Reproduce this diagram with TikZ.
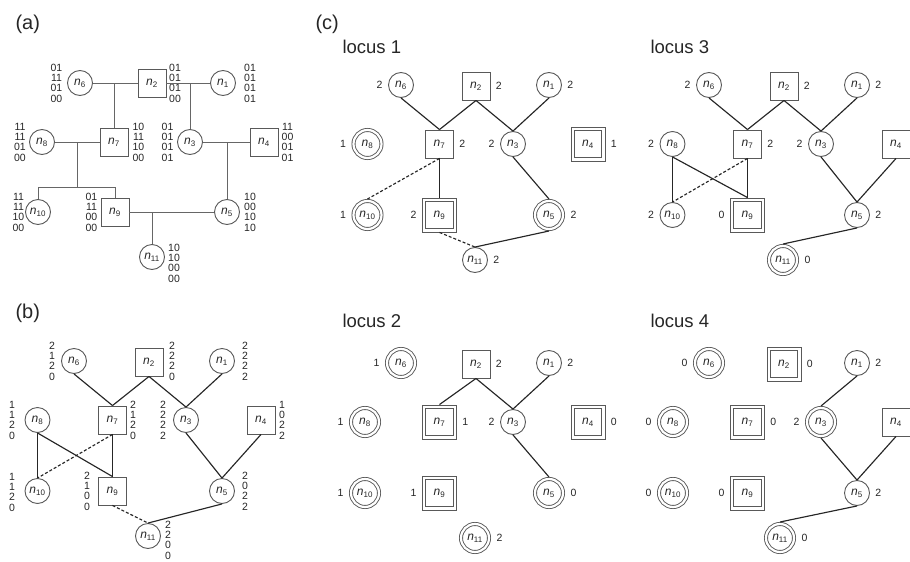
\documentclass[tikz,border=0pt]{standalone}
\usepackage{fontspec}
\setmainfont{Liberation Sans}

\newcommand{\nd}[1]{\textit{n}\textsubscript{#1}}
\newcommand{\panelfont}{\fontsize{20}{24}\selectfont}
\newcommand{\locusfont}{\fontsize{18.5}{22}\selectfont}

\begin{document}
\begin{tikzpicture}[x=1pt,y=-1pt,label distance=2pt,
    every node/.style={text=black!85},
    every label/.style={font=\fontsize{10.5}{12}\selectfont},
    ind/.style={circle,draw=black!65,line width=0.9pt,minimum size=25pt,inner sep=0pt,
                font=\fontsize{12}{12}\selectfont},
    dind/.style={ind,minimum size=28pt,double=white,double distance=2.2pt,outer sep=2pt},
    sq/.style={ind,rectangle,minimum size=28pt},
    dsq/.style={sq,minimum size=34pt,
        path picture={\draw[black!65,line width=0.9pt]
            ([shift={(3.4pt,-3.4pt)}]path picture bounding box.north west) rectangle
            ([shift={(-3.4pt,3.4pt)}]path picture bounding box.south east);}},
    gt/.style={align=center,inner sep=0pt,font=\fontsize{10.5}{10.3}\selectfont},
    tie/.style={draw=black!60,line width=0.9pt},
    link/.style={draw=black!85,line width=1.15pt},
    every edge/.style={draw,dash pattern=on 3pt off 2pt},
    fam/.style={dash pattern=}]
    \useasboundingbox (0,0) rectangle (910,562);

    % (a) pedigree with genotypes
    \node[font=\panelfont,anchor=base west] (pa) at (12,29) {(a)};
    \node[ind] (a6)  at (80,83)   {\nd{6}};
    \node[sq]  (a2)  at (152,83)  {\nd{2}};
    \node[ind] (a1)  at (223,83)  {\nd{1}};
    \node[ind] (a8)  at (42,142)  {\nd{8}};
    \node[sq]  (a7)  at (114,142) {\nd{7}};
    \node[ind] (a3)  at (190,142) {\nd{3}};
    \node[sq]  (a4)  at (264,142) {\nd{4}};
    \node[ind] (a10) at (38,212)  {\nd{10}};
    \node[sq]  (a9)  at (115,212) {\nd{9}};
    \node[ind] (a5)  at (227,212) {\nd{5}};
    \node[ind] (a11) at (152,257) {\nd{11}};

    \node[gt] (g6)  at (56.5,83)  {01\\11\\01\\00};
    \node[gt] (g2)  at (175,83)   {01\\01\\01\\00};
    \node[gt] (g1)  at (250,83)   {01\\01\\01\\01};
    \node[gt] (g8)  at (20,142)   {11\\11\\01\\00};
    \node[gt] (g7)  at (138.5,142){10\\11\\10\\00};
    \node[gt] (g3)  at (167.5,142){01\\01\\01\\01};
    \node[gt] (g4)  at (287.5,142){11\\00\\01\\01};
    \node[gt] (g10) at (18.5,212) {11\\11\\10\\00};
    \node[gt] (g9)  at (91.5,212) {01\\11\\00\\00};
    \node[gt] (g5)  at (250,212)  {10\\00\\10\\10};
    \node[gt] (g11) at (174,263)  {10\\10\\00\\00};

    \coordinate (s87) at (77,187);
    \draw[tie] (a6) -- (a2) (a2) -- (a1) (a8) -- (a7) (a3) -- (a4) (a9) -- (a5);
    \draw[tie] (a7) |- (a6);
    \draw[tie] (a3) |- (a2);
    \draw[tie] (s87) -- (s87 |- a8);
    \draw[tie] (a10) |- (s87);
    \draw[tie] (a9) |- (s87);
    \draw[tie] (a5) |- (a4);
    \draw[tie] (a11) |- (a5);

    % (b) numbers of alleles per locus
    \node[font=\panelfont,anchor=base west] (pb) at (12,318) {(b)};
    \node[ind] (b6)  at (74,361)    {\nd{6}};
    \node[sq]  (b2)  at (149,362)   {\nd{2}};
    \node[ind] (b1)  at (222,361)   {\nd{1}};
    \node[ind] (b8)  at (37.5,420)  {\nd{8}};
    \node[sq]  (b7)  at (112.5,420) {\nd{7}};
    \node[ind] (b3)  at (186,420)   {\nd{3}};
    \node[sq]  (b4)  at (261,420)   {\nd{4}};
    \node[ind] (b10) at (37.5,491)  {\nd{10}};
    \node[sq]  (b9)  at (112.5,491) {\nd{9}};
    \node[ind] (b5)  at (222,491)   {\nd{5}};
    \node[ind] (b11) at (148,536)   {\nd{11}};

    \node[gt] (c6)  at (52,361)  {2\\1\\2\\0};
    \node[gt] (c2)  at (172,361) {2\\2\\2\\0};
    \node[gt] (c1)  at (245,361) {2\\2\\2\\2};
    \node[gt] (c8)  at (12,420)  {1\\1\\2\\0};
    \node[gt] (c7)  at (133,420) {2\\1\\2\\0};
    \node[gt] (c3)  at (163,420) {2\\2\\2\\2};
    \node[gt] (c4)  at (282,420) {1\\0\\2\\2};
    \node[gt] (c10) at (12,492)  {1\\1\\2\\0};
    \node[gt] (c9)  at (87,491)  {2\\1\\0\\0};
    \node[gt] (c5)  at (245,491) {2\\0\\2\\2};
    \node[gt] (c11) at (168,540) {2\\2\\0\\0};

    \path[link] (b6.south) edge[fam] (b7.north)
                (b2.south) edge[fam] (b7.north)
                (b2.south) edge[fam] (b3.north)
                (b1.south) edge[fam] (b3.north)
                (b3.south) edge[fam] (b5.north)
                (b4.south) edge[fam] (b5.north)
                (b8.south) edge[fam] (b10.north)
                (b8.south) edge[fam] (b9.north)
                (b7.south) edge[fam] (b9.north)
                (b7.south) edge      (b10.north)
                (b5.south) edge[fam] (b11.north)
                (b9.south) edge      (b11.north);

    % (c) one graph per locus
    \node[font=\panelfont,anchor=base west] (pc) at (312,29) {(c)};

    \begin{scope}[shift={(327,-276)}]
    \node[font=\locusfont,anchor=base west] (t1) at (12,329) {locus 1};
    \node[ind,label=left:2]  (l1n6)  at (74,361)    {\nd{6}};
    \node[sq,label=right:2]  (l1n2)  at (149,362)   {\nd{2}};
    \node[ind,label=right:2] (l1n1)  at (222,361)   {\nd{1}};
    \node[dind,label=left:1] (l1n8)  at (40.5,420)  {\nd{8}};
    \node[sq,label=right:2]  (l1n7)  at (112.5,420) {\nd{7}};
    \node[ind,label=left:2]  (l1n3)  at (186,420)   {\nd{3}};
    \node[dsq,label=right:1] (l1n4)  at (261,420)   {\nd{4}};
    \node[dind,label=left:1] (l1n10) at (40.5,491)  {\nd{10}};
    \node[dsq,label=left:2]  (l1n9)  at (112.5,491) {\nd{9}};
    \node[dind,label=right:2](l1n5)  at (222,491)   {\nd{5}};
    \node[ind,label=right:2] (l1n11) at (148,536)   {\nd{11}};
    \path[link] (l1n6.south) edge[fam] (l1n7.north)
                (l1n2.south) edge[fam] (l1n7.north)
                (l1n2.south) edge[fam] (l1n3.north)
                (l1n1.south) edge[fam] (l1n3.north)
                (l1n3.south) edge[fam] (l1n5.north)
                (l1n7.south) edge[fam] (l1n9.north)
                (l1n7.south) edge      (l1n10.north)
                (l1n5.south) edge[fam] (l1n11.north)
                (l1n9.south) edge      (l1n11.north);
    \end{scope}

    \begin{scope}[shift={(327,2)}]
    \node[font=\locusfont,anchor=base west] (t2) at (12,325) {locus 2};
    \node[dind,label=left:1] (l2n6)  at (74,361)    {\nd{6}};
    \node[sq,label=right:2]  (l2n2)  at (149,362)   {\nd{2}};
    \node[ind,label=right:2] (l2n1)  at (222,361)   {\nd{1}};
    \node[dind,label=left:1] (l2n8)  at (38,420)    {\nd{8}};
    \node[dsq,label=right:1] (l2n7)  at (112.5,420) {\nd{7}};
    \node[ind,label=left:2]  (l2n3)  at (186,420)   {\nd{3}};
    \node[dsq,label=right:0] (l2n4)  at (261,420)   {\nd{4}};
    \node[dind,label=left:1] (l2n10) at (38,491)    {\nd{10}};
    \node[dsq,label=left:1]  (l2n9)  at (112.5,491) {\nd{9}};
    \node[dind,label=right:0](l2n5)  at (222,491)   {\nd{5}};
    \node[dind,label=right:2](l2n11) at (148,536)   {\nd{11}};
    \path[link] (l2n2.south) edge[fam] (l2n7.north)
                (l2n2.south) edge[fam] (l2n3.north)
                (l2n1.south) edge[fam] (l2n3.north)
                (l2n3.south) edge[fam] (l2n5.north);
    \end{scope}

    \begin{scope}[shift={(635,-276)}]
    \node[font=\locusfont,anchor=base west] (t3) at (12,329) {locus 3};
    \node[ind,label=left:2]  (l3n6)  at (74,361)    {\nd{6}};
    \node[sq,label=right:2]  (l3n2)  at (149,362)   {\nd{2}};
    \node[ind,label=right:2] (l3n1)  at (222,361)   {\nd{1}};
    \node[ind,label=left:2]  (l3n8)  at (37.5,420)  {\nd{8}};
    \node[sq,label=right:2]  (l3n7)  at (112.5,420) {\nd{7}};
    \node[ind,label=left:2]  (l3n3)  at (186,420)   {\nd{3}};
    \node[sq]                (l3n4)  at (261,420)   {\nd{4}};
    \node[ind,label=left:2]  (l3n10) at (37.5,491)  {\nd{10}};
    \node[dsq,label=left:0]  (l3n9)  at (112.5,491) {\nd{9}};
    \node[ind,label=right:2] (l3n5)  at (222,491)   {\nd{5}};
    \node[dind,label=right:0](l3n11) at (148,536)   {\nd{11}};
    \path[link] (l3n6.south) edge[fam] (l3n7.north)
                (l3n2.south) edge[fam] (l3n7.north)
                (l3n2.south) edge[fam] (l3n3.north)
                (l3n1.south) edge[fam] (l3n3.north)
                (l3n3.south) edge[fam] (l3n5.north)
                (l3n4.south) edge[fam] (l3n5.north)
                (l3n8.south) edge[fam] (l3n10.north)
                (l3n8.south) edge[fam] (l3n9.north)
                (l3n7.south) edge[fam] (l3n9.north)
                (l3n7.south) edge      (l3n10.north)
                (l3n5.south) edge[fam] (l3n11.north);
    \end{scope}

    \begin{scope}[shift={(635,2)}]
    \node[font=\locusfont,anchor=base west] (t4) at (12,325) {locus 4};
    \node[dind,label=left:0] (l4n6)  at (74,361)    {\nd{6}};
    \node[dsq,label=right:0] (l4n2)  at (149,362)   {\nd{2}};
    \node[ind,label=right:2] (l4n1)  at (222,361)   {\nd{1}};
    \node[dind,label=left:0] (l4n8)  at (38,420)    {\nd{8}};
    \node[dsq,label=right:0] (l4n7)  at (112.5,420) {\nd{7}};
    \node[dind,label=left:2] (l4n3)  at (186,420)   {\nd{3}};
    \node[sq]                (l4n4)  at (261,420)   {\nd{4}};
    \node[dind,label=left:0] (l4n10) at (38,491)    {\nd{10}};
    \node[dsq,label=left:0]  (l4n9)  at (112.5,491) {\nd{9}};
    \node[ind,label=right:2] (l4n5)  at (222,491)   {\nd{5}};
    \node[dind,label=right:0](l4n11) at (145,536)   {\nd{11}};
    \path[link] (l4n1.south) edge[fam] (l4n3.north)
                (l4n3.south) edge[fam] (l4n5.north)
                (l4n4.south) edge[fam] (l4n5.north)
                (l4n5.south) edge[fam] (l4n11.north);
    \end{scope}
\end{tikzpicture}
\end{document}
